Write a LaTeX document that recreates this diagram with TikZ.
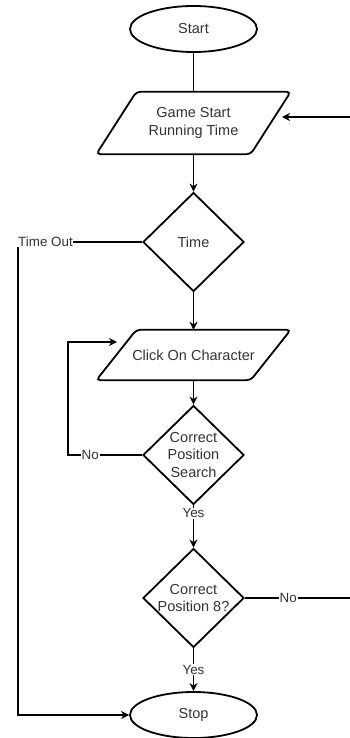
\documentclass[tikz,border=0pt]{standalone}
\usepackage{fontspec}
\setmainfont{Liberation Sans}
\usetikzlibrary{shapes.geometric,arrows.meta,calc}
\definecolor{txt}{HTML}{333333}
\begin{document}
\begin{tikzpicture}[x=1pt,y=-1pt,
  vfont/.style={font=\fontsize{14.5}{17.5}\selectfont},
  shp/.style={draw=black,line width=1.8pt,text=txt,vfont,align=center},
  term/.style={shp,ellipse,minimum width=127pt,minimum height=46pt,inner sep=0pt},
  dec/.style={shp,diamond,minimum width=101pt,minimum height=99pt,inner sep=0pt},
  dtext/.style={text=txt,vfont,align=center,inner sep=0pt},
  io/.style={text=txt,vfont,align=center,minimum width=194pt,inner sep=0pt},
  pgram/.style={draw=black,line width=1.8pt,rounded corners=4pt},
  lbl/.style={fill=white,text=txt,font=\fontsize{13.4}{16}\selectfont,inner sep=1pt},
  conn/.style={line width=1.1pt},
  arr/.style={conn,-{Stealth[length=8pt,width=8pt,inset=2.5pt]}}]
\useasboundingbox (0,0) rectangle (350,738);
\clip (0,0) rectangle (350,738);

% nodes
\node[term] (start) at (193.5,29) {Start};
\node[io,minimum height=62pt] (game) at (193.5,123) {Game Start\\Running Time};
\draw[pgram] ($(game.north west)+(40pt,0)$) -- (game.north east) -- ($(game.south east)+(-40pt,0)$) -- (game.south west) -- cycle;
\node[dec,label={[dtext]center:Time}] (time) at (193.5,242) {};
\node[io,minimum height=50pt] (click) at (193.5,355) {Click On Character};
\draw[pgram] ($(click.north west)+(40pt,0)$) -- (click.north east) -- ($(click.south east)+(-40pt,0)$) -- (click.south west) -- cycle;
\node[dec,label={[dtext]center:Correct\\Position\\Search}] (cps) at (193.5,455) {};
\node[dec,label={[dtext]center:Correct\\Position 8?}] (cp8) at (193.5,598) {};
\node[term] (stop) at (193.5,715) {Stop};
\node[lbl,inner sep=0pt,anchor=west] (tout) at (18,242) {Time Out};

\coordinate (l1) at (68,455);
\coordinate (l2) at (117,342);
\coordinate (r1) at (362,598);
\coordinate (gin) at (282,117);

% connectors
\draw[conn] (start) -- (game);
\draw[arr] (game) -- (time);
\draw[arr] (time) -- (click);
\draw[arr] (click) -- (cps);
\draw[arr] (cps) -- node[lbl,pos=0.19]{Yes} (cp8);
\draw[arr] (cp8) -- node[lbl,pos=0.5]{Yes} (stop);
\draw[conn] (time.west) -- (tout.east);
\draw[arr] (tout.south west) |- (stop);
\draw[arr] (cps.west) -- node[lbl,pos=0.7]{No} (l1) |- (l2);
\draw[arr] (cp8.east) -- node[lbl,pos=0.37]{No} (r1) |- (gin);
\end{tikzpicture}
\end{document}
